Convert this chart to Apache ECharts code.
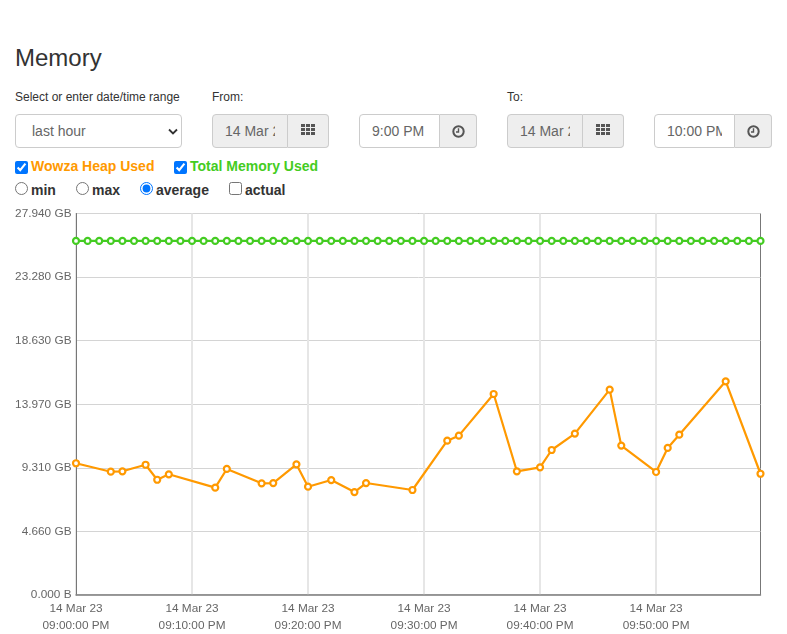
<!DOCTYPE html>
<html><head><meta charset="utf-8">
<script src="https://cdn.jsdelivr.net/npm/echarts@6/dist/echarts.min.js"></script>
<style>
html,body{margin:0;padding:0;background:#fff;font-family:"Liberation Sans",Arial,sans-serif;color:#333;overflow:hidden}
body{width:787px;height:634px;position:relative}
#chart{position:absolute;left:0;top:0;width:787px;height:634px}
.a{position:absolute;white-space:nowrap}
h1{position:absolute;left:15px;top:42px;margin:0;font-size:24px;font-weight:400;line-height:32px;color:#333}
.lab{font-size:12px;line-height:14px;color:#333;top:90px}
.box{position:absolute;top:114px;height:34px;box-sizing:border-box;border:1px solid #ccc;font-size:14px;line-height:32px;color:#666;overflow:hidden;white-space:nowrap}
.grey{background:#eee}
.l{border-radius:4px 0 0 4px}.r{border-radius:0 4px 4px 0;border-left:0}
.clip{display:block;overflow:hidden}
.chk{position:absolute;margin:0;width:13px;height:13px}
.b{font-size:14px;font-weight:700;line-height:16px}
</style></head><body>
<h1>Memory</h1>
<div class="a lab" style="left:15px">Select or enter date/time range</div>
<div class="a lab" style="left:212px">From:</div>
<div class="a lab" style="left:507px">To:</div>
<div class="box" style="left:15px;width:167px;border-radius:4px;padding-left:16px">last hour
  <svg style="position:absolute;left:152px;top:13px" width="11" height="8"><path d="M1 1.5L5 5.5L9 1.5" fill="none" stroke="#333" stroke-width="1.8"/></svg></div>
<div class="box grey l" style="left:212px;width:76px;padding-left:12px"><span class="clip" style="width:50px">14 Mar 23</span></div>
<div class="box grey r" style="left:288px;width:41px"><svg style="position:absolute;left:13px;top:9px" width="14" height="11" fill="#555"><path d="M0 0h4v3h-4zM5 0h4v3h-4zM10 0h4v3h-4zM0 4h4v3h-4zM5 4h4v3h-4zM10 4h4v3h-4zM0 8h4v3h-4zM5 8h4v3h-4zM10 8h4v3h-4z"/></svg></div>
<div class="box l" style="left:359px;width:81px;padding-left:12px"><span class="clip" style="width:55px">9:00 PM</span></div>
<div class="box grey r" style="left:440px;width:37px"><svg style="position:absolute;left:11.5px;top:10px" width="13" height="13"><circle cx="6.5" cy="6.5" r="5.2" fill="none" stroke="#555" stroke-width="2"/><path d="M6.5 3.2V7H4" fill="none" stroke="#555" stroke-width="1.4"/></svg></div>
<div class="box grey l" style="left:507px;width:76px;padding-left:12px"><span class="clip" style="width:50px">14 Mar 23</span></div>
<div class="box grey r" style="left:583px;width:41px"><svg style="position:absolute;left:13px;top:9px" width="14" height="11" fill="#555"><path d="M0 0h4v3h-4zM5 0h4v3h-4zM10 0h4v3h-4zM0 4h4v3h-4zM5 4h4v3h-4zM10 4h4v3h-4zM0 8h4v3h-4zM5 8h4v3h-4zM10 8h4v3h-4z"/></svg></div>
<div class="box l" style="left:654px;width:81px;padding-left:12px"><span class="clip" style="width:55px">10:00 PM</span></div>
<div class="box grey r" style="left:735px;width:37px"><svg style="position:absolute;left:11.5px;top:10px" width="13" height="13"><circle cx="6.5" cy="6.5" r="5.2" fill="none" stroke="#555" stroke-width="2"/><path d="M6.5 3.2V7H4" fill="none" stroke="#555" stroke-width="1.4"/></svg></div>
<input class="chk" type="checkbox" checked style="left:15px;top:161px">
<div class="a b" style="left:31px;top:158px;color:#ff9900">Wowza Heap Used</div>
<input class="chk" type="checkbox" checked style="left:174px;top:161px">
<div class="a b" style="left:190px;top:158px;color:#44cc22">Total Memory Used</div>
<input class="chk" type="radio" name="m" style="left:15px;top:182px"><div class="a b" style="left:31px;top:182px">min</div>
<input class="chk" type="radio" name="m" style="left:76px;top:182px"><div class="a b" style="left:92px;top:182px">max</div>
<input class="chk" type="radio" name="m" checked style="left:140px;top:182px"><div class="a b" style="left:156px;top:182px">average</div>
<input class="chk" type="checkbox" style="left:229px;top:182px"><div class="a b" style="left:245px;top:182px">actual</div>
<div id="chart"></div>
<script>
const minutes = Array.from({length:60},(_, i)=>i);
const timeLabels = ["09:00:00 PM","09:10:00 PM","09:20:00 PM","09:30:00 PM","09:40:00 PM","09:50:00 PM"];
const yTickLabels = ["0.000 B","4.660 GB","9.310 GB","13.970 GB","18.630 GB","23.280 GB","27.940 GB"];
const yMax = 27.94;
const heapMinutes = [0,3,4,6,7,8,12,13,16,17,19,20,22,24,25,29,32,33,36,38,40,41,43,46,47,50,51,52,56,59];
const heapValues = [9.65,9.03,9.06,9.54,8.44,8.84,7.86,9.23,8.18,8.20,9.57,7.93,8.42,7.54,8.20,7.69,11.30,11.67,14.72,9.06,9.35,10.62,11.82,15.04,10.94,9.01,10.77,11.74,15.65,8.88];
const totalValue = 25.93;
const totalValues = minutes.map(()=>totalValue);

const cats = minutes.map(m=>{
  const t = timeLabels[m/10];
  return t ? "14 Mar 23\n"+t : "";
});
const heapSeries = minutes.map(m=>{const i=heapMinutes.indexOf(m);return i<0?null:heapValues[i];});
const chart = echarts.init(document.getElementById('chart'),null,{renderer:'canvas'});
const mk = (name,data,color,z)=>({name,type:'line',data,connectNulls:true,z,
  symbol:'circle',symbolSize:6,showAllSymbol:true,clip:false,
  lineStyle:{color,width:2.2},itemStyle:{color:'#fff',borderColor:color,borderWidth:2.2},animation:false});
chart.setOption({
  animation:false,
  textStyle:{fontFamily:'"Liberation Sans",Arial,sans-serif'},
  grid:{left:76,top:213.5,width:684.5,height:381.5,show:true,borderColor:'#777',borderWidth:1,backgroundColor:'transparent'},
  xAxis:{type:'category',data:cats,boundaryGap:false,
    axisLine:{show:true,lineStyle:{color:'#888',width:1.5}},axisTick:{show:false},
    axisLabel:{interval:(i)=>i%10===0,color:'#666',fontSize:11.8,lineHeight:17,margin:5,hideOverlap:false},
    splitLine:{show:true,interval:(i)=>i%10===0,lineStyle:{color:'#e6e6e6',width:2}}},
  yAxis:{type:'value',min:0,max:yMax,interval:yMax/6,
    axisLine:{show:true,lineStyle:{color:'#777',width:1}},axisTick:{show:false},
    axisLabel:{color:'#666',fontSize:11.8,margin:4.5,
      formatter:(v)=>yTickLabels[Math.round(v/(yMax/6))]},
    splitLine:{show:true,lineStyle:{color:'#d4d4d4',width:1}}},
  series:[mk('Total Memory Used',totalValues,'#44cc22',3),mk('Wowza Heap Used',heapSeries,'#ff9900',4)]
});
</script>
</body></html>
